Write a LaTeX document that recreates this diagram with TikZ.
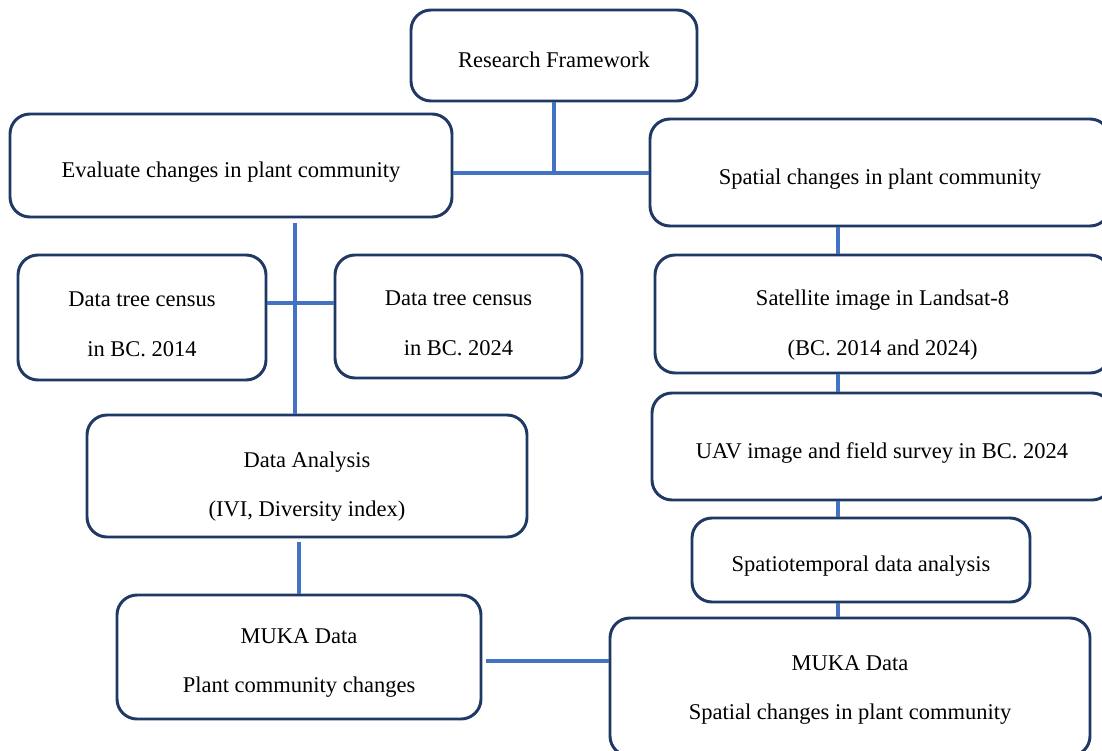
\documentclass[tikz,border=0pt]{standalone}
\usepackage{fontspec}
\setmainfont{Liberation Serif}
\usetikzlibrary{positioning,calc}
\definecolor{boxline}{RGB}{31,56,100}
\definecolor{linkline}{RGB}{68,114,196}
\newcommand{\capgap}[1]{\rule{0pt}{#1}}

\begin{document}
\begin{tikzpicture}[x=0.025cm,y=-0.025cm]
  \tikzstyle{block}=[rectangle,rounded corners=0.5cm,draw=boxline,line width=2.1pt,fill=white,inner sep=0pt,align=center,font=\fontsize{16}{35}\selectfont]
  \tikzstyle{link}=[draw=linkline,line width=2.2pt]

    \useasboundingbox (0,0) rectangle (1102,750);

    \node [block,minimum width=286*0.025cm,minimum height=91*0.025cm] (frame) at (554,55.5) {\capgap{17pt}Research Framework};
    \node [block,minimum width=442*0.025cm,minimum height=103*0.025cm] (evaluate) at (231,165.5) {\capgap{20pt}Evaluate changes in plant community};
    \node [block,minimum width=460*0.025cm,minimum height=107*0.025cm] (spatial) at (880,172.5) {\capgap{21pt}Spatial changes in plant community};

    % left branch
    \node [block,minimum width=248*0.025cm,minimum height=125*0.025cm] (census14) at (142,317.5) {\capgap{20pt}Data tree census\\in BC. 2014};
    \node [block,minimum width=247*0.025cm,minimum height=123*0.025cm] (census24) at (458.5,316.5) {\capgap{20pt}Data tree census\\in BC. 2024};
    \node [block,minimum width=440*0.025cm,minimum height=122*0.025cm] (analysis) at (307,476) {\capgap{26pt}Data Analysis\\(IVI, Diversity index)};
    \node [block,minimum width=364*0.025cm,minimum height=124*0.025cm] (mukaplant) at (299,657) {\capgap{19pt}MUKA Data\\Plant community changes};

    % right branch
    \node [block,minimum width=455*0.025cm,minimum height=118*0.025cm] (landsat) at (882.5,314) {\capgap{27pt}Satellite image in Landsat-8\\(BC. 2014 and 2024)};
    \node [block,minimum width=460*0.025cm,minimum height=107*0.025cm] (uav) at (882,446.5) {\capgap{20pt}UAV image and field survey in BC. 2024};
    \node [block,minimum width=338*0.025cm,minimum height=84*0.025cm] (spatio) at (861,560) {\capgap{20pt}Spatiotemporal data analysis};
    \node [block,minimum width=480*0.025cm,minimum height=138*0.025cm] (mukaspatial) at (850,687) {\capgap{15pt}MUKA Data\\Spatial changes in plant community};

    \coordinate (top) at (554,173);
    \coordinate (leftx) at (295,303);
    \coordinate (rightx) at (838,0);
    \coordinate (bottom) at (0,661);

    \draw [link] (frame.south) -- (top);
    \draw [link] (evaluate.east |- top) -- (spatial.west |- top);
    \draw [link] ([yshift=-0.12cm]evaluate.south -| leftx) -- (analysis.north -| leftx);
    \draw [link] (census14.east |- leftx) -- (census24.west |- leftx);
    \draw [link] ([yshift=-0.1cm]analysis.south -| mukaplant.north) -- (mukaplant.north);
    \draw [link] ([xshift=0.1cm]mukaplant.east |- bottom) -- (mukaspatial.west |- bottom);

    \draw [link] (spatial.south -| rightx) -- (landsat.north -| rightx);
    \draw [link] (landsat.south -| rightx) -- (uav.north -| rightx);
    \draw [link] (uav.south -| rightx) -- (spatio.north -| rightx);
    \draw [link] (spatio.south -| rightx) -- (mukaspatial.north -| rightx);
\end{tikzpicture}
\end{document}
